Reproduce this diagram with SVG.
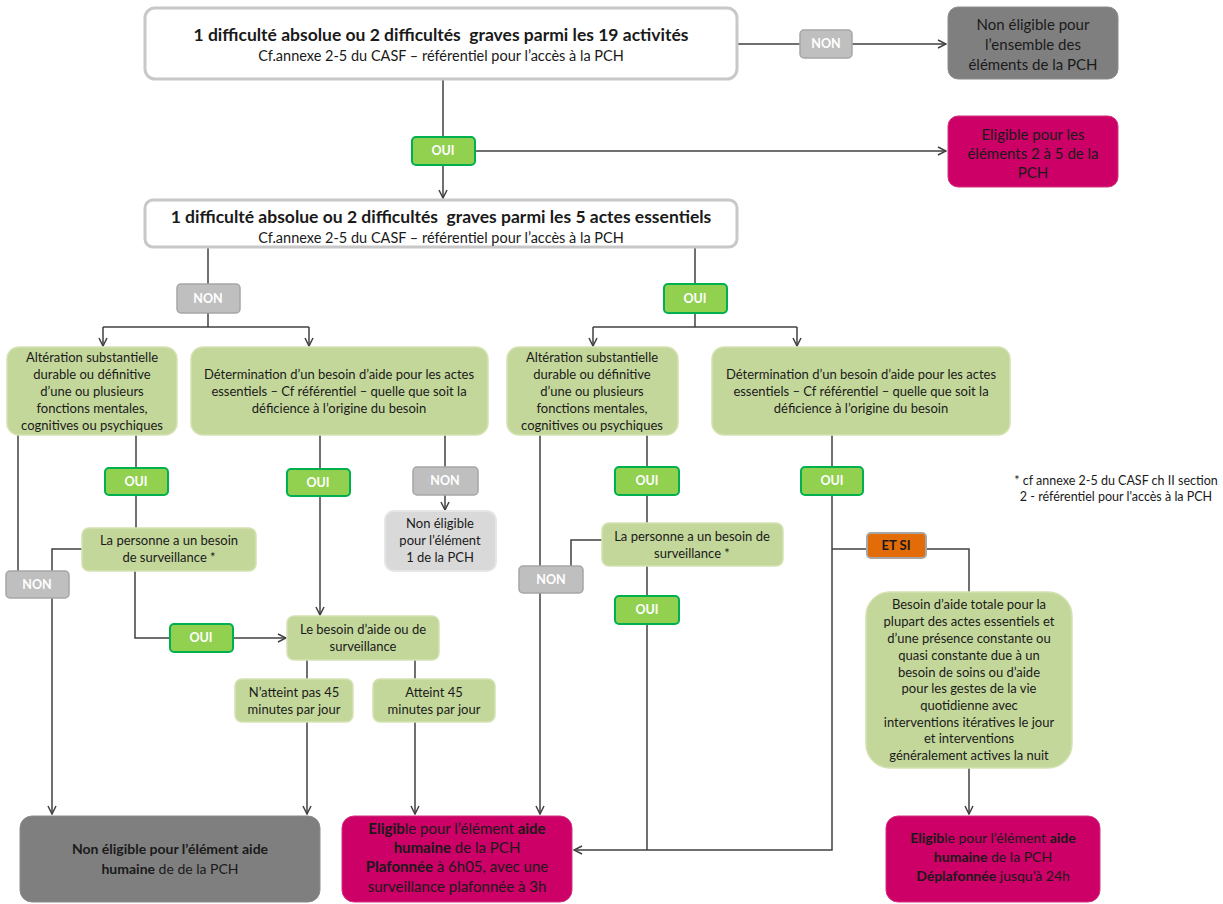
<svg xmlns="http://www.w3.org/2000/svg" width="1223" height="904" viewBox="0 0 1223 904">
<defs>
<marker id="arr" viewBox="0 0 10 10" refX="9" refY="5" markerWidth="10" markerHeight="10" markerUnits="userSpaceOnUse" orient="auto">
<path d="M1,1 L9,5 L1,9" fill="none" stroke="#404040" stroke-width="1.5"/>
</marker>
<style>
text{font-family:Lato,"Liberation Sans",sans-serif;fill:#1a1a1a;text-anchor:middle}
.t{font-size:17.5px;font-weight:bold}
.s{font-size:14.5px}
.g{font-size:13px}
.b{font-weight:bold}
.w{fill:#ffffff;font-size:12.5px;font-weight:bold}
.bx{fill:#ffffff;stroke:#c8c8c8;stroke-width:3}
.gr{fill:#c4d79b;stroke:#d4e2b2;stroke-width:1.5}
.oui{fill:#92d050;stroke:#00b050;stroke-width:2}
.non{fill:#bfbfbf;stroke:#a6a6a6;stroke-width:1.5}
.dk{fill:#7f7f7f;stroke:#8c8c8c;stroke-width:1}
.mg{fill:#cc0066;stroke:#d3337f;stroke-width:1}
.lg{fill:#d9d9d9;stroke:#e6e6e6;stroke-width:2}
.et{fill:#e36c09;stroke:#a6a6a6;stroke-width:2}
.c{fill:none;stroke:#404040;stroke-width:1.5}
.m{font-size:15px}
.m14{font-size:14px}
</style>
</defs>

<g id="connectors">
<path class="c" d="M737,44 H800"/>
<path class="c" d="M852,44 H946" marker-end="url(#arr)"/>
<path class="c" d="M443,79 V137"/>
<path class="c" d="M443,165 V198" marker-end="url(#arr)"/>
<path class="c" d="M475,151 H946" marker-end="url(#arr)"/>
<path class="c" d="M208,247 V284"/>
<path class="c" d="M208,313 V327"/>
<path class="c" d="M103,327 H309"/>
<path class="c" d="M103,327 V346" marker-end="url(#arr)"/>
<path class="c" d="M309,327 V346" marker-end="url(#arr)"/>
<path class="c" d="M695,247 V284"/>
<path class="c" d="M695,313 V327"/>
<path class="c" d="M593,327 H797"/>
<path class="c" d="M593,327 V346" marker-end="url(#arr)"/>
<path class="c" d="M797,327 V346" marker-end="url(#arr)"/>
<path class="c" d="M18,435 V571"/>
<path class="c" d="M82,549 H52 V571"/>
<path class="c" d="M52,598 V814" marker-end="url(#arr)"/>
<path class="c" d="M136,435 V468"/>
<path class="c" d="M136,495 V528"/>
<path class="c" d="M135,571 V638 H170"/>
<path class="c" d="M233,638 H286" marker-end="url(#arr)"/>
<path class="c" d="M320,435 V469"/>
<path class="c" d="M320,496 V615" marker-end="url(#arr)"/>
<path class="c" d="M445,435 V467"/>
<path class="c" d="M445,495 V510" marker-end="url(#arr)"/>
<path class="c" d="M307,660 V679"/>
<path class="c" d="M415,660 V679"/>
<path class="c" d="M307,722 V814" marker-end="url(#arr)"/>
<path class="c" d="M415,722 V814" marker-end="url(#arr)"/>
<path class="c" d="M540,435 V566"/>
<path class="c" d="M540,593 V814" marker-end="url(#arr)"/>
<path class="c" d="M602,540 H571 V566"/>
<path class="c" d="M647,435 V467"/>
<path class="c" d="M647,495 V523"/>
<path class="c" d="M647,566 V596"/>
<path class="c" d="M647,624 V850"/>
<path class="c" d="M832,435 V467"/>
<path class="c" d="M832,495 V850 H574" marker-end="url(#arr)"/>
<path class="c" d="M832,549 H867"/>
<path class="c" d="M926,549 H969 V592"/>
<path class="c" d="M969,768 V814" marker-end="url(#arr)"/>
</g>

<g id="n-top">
<rect class="bx" x="145" y="8" width="592" height="71" rx="10"/>
<text class="t" x="441" y="41">1 difficulté absolue ou 2 difficultés&#160; graves parmi les 19 activités</text>
<text class="s" x="441" y="61">Cf.annexe 2-5 du CASF – référentiel pour l’accès à la PCH</text>
</g>
<g id="l-non1"><rect class="non" x="800" y="30" width="52" height="28" rx="4"/><text class="w" x="826" y="48">NON</text></g>
<g id="n-ne-all">
<rect class="dk" x="948" y="7" width="170" height="72" rx="10"/>
<text class="m" x="1033" y="30">Non éligible pour</text>
<text class="m" x="1033" y="50">l’ensemble des</text>
<text class="m" x="1033" y="70">éléments de la PCH</text>
</g>
<g id="l-oui1"><rect class="oui" x="412" y="137" width="63" height="28" rx="4"/><text class="w" x="443" y="155">OUI</text></g>
<g id="n-el25">
<rect class="mg" x="948" y="116" width="170" height="71" rx="10"/>
<text class="m" x="1033" y="140">Eligible pour les</text>
<text class="m" x="1033" y="159">éléments 2 à 5 de la</text>
<text class="m" x="1033" y="178">PCH</text>
</g>
<g id="n-second">
<rect class="bx" x="145" y="200" width="592" height="47" rx="8"/>
<text class="t" x="441" y="223">1 difficulté absolue ou 2 difficultés&#160; graves parmi les 5 actes essentiels</text>
<text class="s" x="441" y="243">Cf.annexe 2-5 du CASF – référentiel pour l’accès à la PCH</text>
</g>
<g id="l-non2"><rect class="non" x="177" y="284" width="63" height="29" rx="4"/><text class="w" x="208" y="303">NON</text></g>
<g id="l-oui2"><rect class="oui" x="664" y="284" width="63" height="29" rx="4"/><text class="w" x="695" y="303">OUI</text></g>

<g id="n-alt-l">
<rect class="gr" x="7" y="347" width="170" height="88" rx="12"/>
<text class="g" x="92" y="362">Altération substantielle</text>
<text class="g" x="92" y="379">durable ou définitive</text>
<text class="g" x="92" y="396">d’une ou plusieurs</text>
<text class="g" x="92" y="413">fonctions mentales,</text>
<text class="g" x="92" y="430">cognitives ou psychiques</text>
</g>
<g id="n-det-l">
<rect class="gr" x="191" y="347" width="297" height="88" rx="12"/>
<text class="g" x="339" y="379">Détermination d’un besoin d’aide pour les actes</text>
<text class="g" x="339" y="396">essentiels – Cf référentiel – quelle que soit la</text>
<text class="g" x="339" y="413">déficience à l’origine du besoin</text>
</g>
<g id="n-alt-r">
<rect class="gr" x="507" y="347" width="171" height="88" rx="12"/>
<text class="g" x="592" y="362">Altération substantielle</text>
<text class="g" x="592" y="379">durable ou définitive</text>
<text class="g" x="592" y="396">d’une ou plusieurs</text>
<text class="g" x="592" y="413">fonctions mentales,</text>
<text class="g" x="592" y="430">cognitives ou psychiques</text>
</g>
<g id="n-det-r">
<rect class="gr" x="712" y="347" width="298" height="88" rx="12"/>
<text class="g" x="861" y="379">Détermination d’un besoin d’aide pour les actes</text>
<text class="g" x="861" y="396">essentiels – Cf référentiel – quelle que soit la</text>
<text class="g" x="861" y="413">déficience à l’origine du besoin</text>
</g>

<g id="l-oui3"><rect class="oui" x="105" y="468" width="63" height="27" rx="4"/><text class="w" x="136" y="486">OUI</text></g>
<g id="l-oui4"><rect class="oui" x="287" y="469" width="63" height="27" rx="4"/><text class="w" x="318" y="487">OUI</text></g>
<g id="l-non3"><rect class="non" x="413" y="467" width="65" height="28" rx="4"/><text class="w" x="445" y="485">NON</text></g>
<g id="n-ne1">
<rect class="lg" x="385" y="511" width="111" height="60" rx="9"/>
<text class="g" x="440" y="528">Non éligible</text>
<text class="g" x="440" y="545">pour l’élément</text>
<text class="g" x="440" y="562">1 de la PCH</text>
</g>
<g id="n-surv-l">
<rect class="gr" x="82" y="528" width="174" height="43" rx="7"/>
<text class="g" x="169" y="545">La personne a un besoin</text>
<text class="g" x="169" y="562">de surveillance *</text>
</g>
<g id="l-non4"><rect class="non" x="6" y="571" width="63" height="27" rx="4"/><text class="w" x="37" y="589">NON</text></g>
<g id="l-oui5"><rect class="oui" x="170" y="624" width="63" height="28" rx="4"/><text class="w" x="201" y="642">OUI</text></g>
<g id="n-besoin">
<rect class="gr" x="287" y="616" width="152" height="44" rx="7"/>
<text class="g" x="363" y="634">Le besoin d’aide ou de</text>
<text class="g" x="363" y="651">surveillance</text>
</g>
<g id="n-natt">
<rect class="gr" x="235" y="679" width="118" height="43" rx="7"/>
<text class="g" x="294" y="697">N’atteint pas 45</text>
<text class="g" x="294" y="714">minutes par jour</text>
</g>
<g id="n-att">
<rect class="gr" x="373" y="679" width="122" height="43" rx="7"/>
<text class="g" x="434" y="697">Atteint 45</text>
<text class="g" x="434" y="714">minutes par jour</text>
</g>

<g id="l-oui6"><rect class="oui" x="615" y="467" width="64" height="28" rx="4"/><text class="w" x="647" y="485">OUI</text></g>
<g id="l-oui7"><rect class="oui" x="801" y="467" width="62" height="28" rx="4"/><text class="w" x="832" y="485">OUI</text></g>
<g id="n-surv-r">
<rect class="gr" x="602" y="523" width="181" height="43" rx="7"/>
<text class="g" x="692" y="541">La personne a un besoin de</text>
<text class="g" x="692" y="558">surveillance *</text>
</g>
<g id="l-non5"><rect class="non" x="519" y="566" width="64" height="27" rx="4"/><text class="w" x="551" y="584">NON</text></g>
<g id="l-oui8"><rect class="oui" x="615" y="596" width="64" height="28" rx="4"/><text class="w" x="647" y="614">OUI</text></g>
<g id="l-etsi"><rect class="et" x="867" y="533" width="59" height="25" rx="4"/><text class="g b" x="896" y="550">ET SI</text></g>
<g id="n-total">
<rect class="gr" x="866" y="592" width="206" height="176" rx="24"/>
<text class="g" x="969" y="609">Besoin d’aide totale pour la</text>
<text class="g" x="969" y="626">plupart des actes essentiels et</text>
<text class="g" x="969" y="643">d’une présence constante ou</text>
<text class="g" x="969" y="660">quasi constante due à un</text>
<text class="g" x="969" y="677">besoin de soins ou d’aide</text>
<text class="g" x="969" y="693">pour les gestes de la vie</text>
<text class="g" x="969" y="710">quotidienne avec</text>
<text class="g" x="969" y="727">interventions itératives le jour</text>
<text class="g" x="969" y="743">et interventions</text>
<text class="g" x="969" y="760">généralement actives la nuit</text>
</g>
<g id="note">
<text style="font-size:12.5px" x="1116" y="485">* cf annexe 2-5 du CASF  ch II section</text>
<text style="font-size:12.5px" x="1116" y="501">2 - référentiel pour l'accès à la PCH</text>
</g>

<g id="n-ne-ah">
<rect class="dk" x="20" y="816" width="300" height="86" rx="12"/>
<text class="m14" x="170" y="854"><tspan class="b">Non éligible pour l’élément aide</tspan></text>
<text class="m14" x="170" y="874"><tspan class="b">humaine</tspan> de de la PCH</text>
</g>
<g id="n-el-plaf">
<rect class="mg" x="342" y="816" width="230" height="86" rx="12"/>
<text class="m" x="457" y="834"><tspan class="b">Eligib</tspan>le pour l’élément <tspan class="b">aide</tspan></text>
<text class="m" x="457" y="853"><tspan class="b">humaine</tspan> de la PCH</text>
<text class="m" x="457" y="872"><tspan class="b">Plafonnée</tspan> à 6h05, avec une</text>
<text class="m" x="457" y="892">surveillance plafonnée à 3h</text>
</g>
<g id="n-el-deplaf">
<rect class="mg" x="886" y="816" width="214" height="86" rx="12"/>
<text class="m14" x="993" y="843"><tspan class="b">Eligib</tspan>le pour l’élément <tspan class="b">aide</tspan></text>
<text class="m14" x="993" y="862"><tspan class="b">humaine</tspan> de la PCH</text>
<text class="m14" x="993" y="881"><tspan class="b">Déplafonnée</tspan> jusqu’à 24h</text>
</g>
</svg>
